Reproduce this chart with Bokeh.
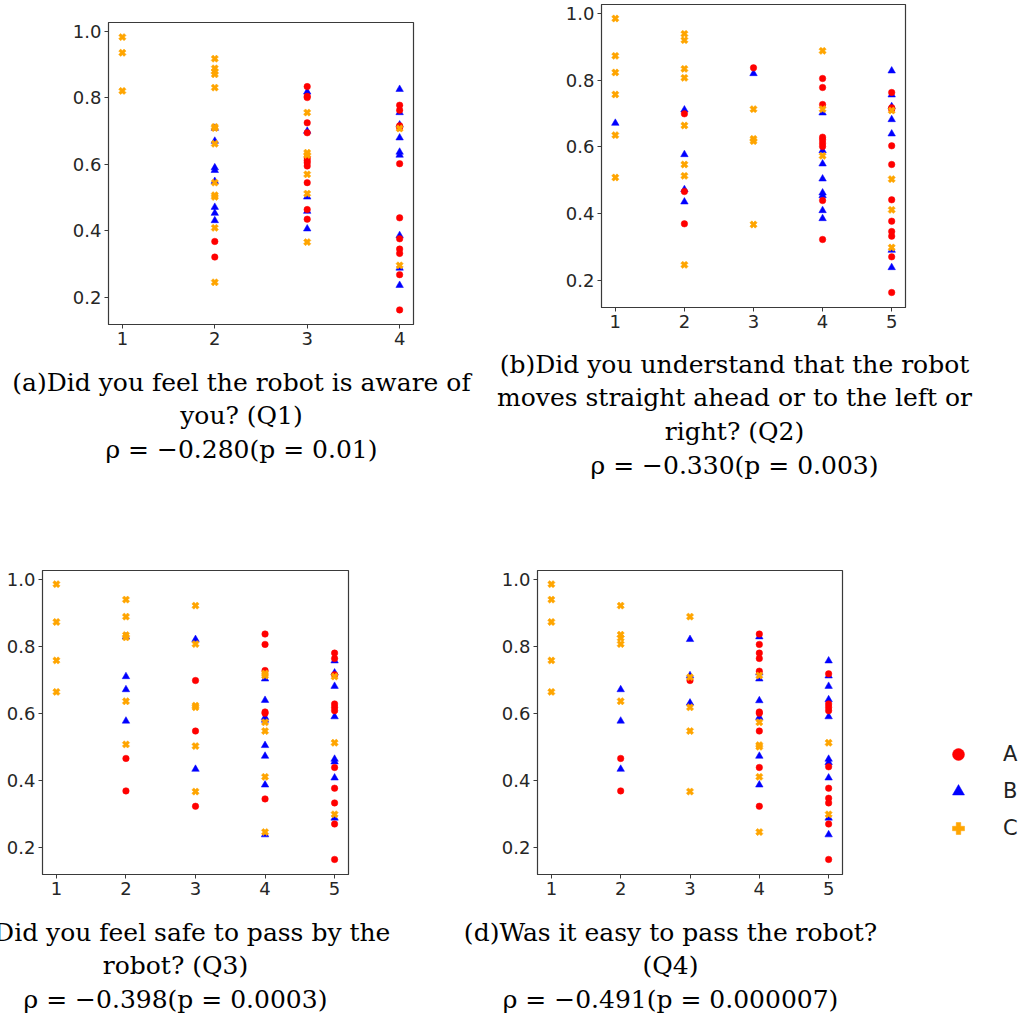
from bokeh.plotting import figure
from bokeh.layouts import column, row
from bokeh.models import Range1d, FixedTicker, Label, Legend, LegendItem, NumeralTickFormatter
from bokeh.embed import file_html
from bokeh.resources import INLINE

GROUPS = ["A", "B", "C"]
COLORS = {"A": "#ff0000", "B": "#0000ff", "C": "#ffa500"}
MARKERS = {"A": "circle", "B": "triangle", "C": "plus"}
Y_TICKS = [0.2, 0.4, 0.6, 0.8, 1.0]

# ---------------- Q1 (x = 1..4) ----------------
Q1_A_x = [2, 2, 3, 3, 3, 3, 3, 3, 3, 3, 3, 3, 3, 3, 4, 4, 4, 4, 4, 4, 4, 4, 4, 4, 4]
Q1_A_y = [0.368, 0.321, 0.834, 0.805, 0.801, 0.725, 0.695, 0.620, 0.612, 0.605, 0.595, 0.545, 0.464, 0.435,
          0.778, 0.763, 0.716, 0.711, 0.602, 0.439, 0.376, 0.345, 0.332, 0.268, 0.162]
Q1_B_x = [2, 2, 2, 2, 2, 2, 2, 2, 3, 3, 3, 3, 3, 4, 4, 4, 4, 4, 4, 4, 4, 4]
Q1_B_y = [0.709, 0.670, 0.590, 0.582, 0.549, 0.471, 0.453, 0.431, 0.818, 0.700, 0.502, 0.459, 0.406,
          0.826, 0.756, 0.719, 0.680, 0.637, 0.628, 0.386, 0.288, 0.236]
Q1_C_x = [1, 1, 1, 2, 2, 2, 2, 2, 2, 2, 2, 2, 2, 2, 2, 2, 3, 3, 3, 3, 3, 3, 4, 4]
Q1_C_y = [0.983, 0.936, 0.821, 0.918, 0.889, 0.879, 0.871, 0.831, 0.713, 0.709, 0.662, 0.545, 0.507, 0.502,
          0.409, 0.245, 0.756, 0.635, 0.628, 0.570, 0.512, 0.366, 0.708, 0.296]

# ---------------- Q2 (x = 1..5) ----------------
Q2_A_x = [2, 2, 2, 3, 4, 4, 4, 4, 4, 4, 4, 4, 4, 5, 5, 5, 5, 5, 5, 5, 5, 5, 5, 5]
Q2_A_y = [0.699, 0.466, 0.369, 0.837, 0.805, 0.778, 0.727, 0.629, 0.621, 0.611, 0.601, 0.439, 0.322,
          0.763, 0.717, 0.713, 0.603, 0.547, 0.441, 0.377, 0.346, 0.332, 0.270, 0.163]
Q2_B_x = [1, 2, 2, 2, 2, 3, 4, 4, 4, 4, 4, 4, 4, 4, 5, 5, 5, 5, 5, 5, 5]
Q2_B_y = [0.671, 0.711, 0.577, 0.472, 0.435, 0.820, 0.702, 0.589, 0.549, 0.504, 0.462, 0.454, 0.409, 0.385,
          0.828, 0.756, 0.721, 0.682, 0.639, 0.290, 0.238]
Q2_C_x = [1, 1, 1, 1, 1, 1, 2, 2, 2, 2, 2, 2, 2, 2, 3, 3, 3, 3, 4, 4, 4, 5, 5, 5, 5]
Q2_C_y = [0.985, 0.873, 0.823, 0.757, 0.635, 0.508, 0.939, 0.920, 0.834, 0.807, 0.664, 0.547, 0.513, 0.246,
          0.713, 0.624, 0.617, 0.367, 0.888, 0.713, 0.573, 0.709, 0.503, 0.411, 0.298]

# ---------------- Q3 (x = 1..5) ----------------
Q3_A_x = [2, 2, 3, 3, 3, 4, 4, 4, 4, 4, 4, 5, 5, 5, 5, 5, 5, 5, 5, 5, 5, 5]
Q3_A_y = [0.465, 0.368, 0.698, 0.547, 0.322, 0.837, 0.806, 0.728, 0.604, 0.600, 0.344,
          0.780, 0.764, 0.715, 0.628, 0.618, 0.608, 0.438, 0.376, 0.332, 0.269, 0.163]
Q3_B_x = [2, 2, 2, 2, 3, 3, 4, 4, 4, 4, 4, 4, 4, 4, 5, 5, 5, 5, 5, 5, 5, 5]
Q3_B_y = [0.829, 0.710, 0.671, 0.577, 0.821, 0.433, 0.703, 0.639, 0.588, 0.580, 0.504, 0.472, 0.386, 0.237,
          0.757, 0.721, 0.681, 0.590, 0.463, 0.455, 0.407, 0.287]
Q3_C_x = [1, 1, 1, 1, 2, 2, 2, 2, 2, 2, 3, 3, 3, 3, 3, 3, 4, 4, 4, 4, 4, 4, 5, 5, 5]
Q3_C_y = [0.986, 0.873, 0.758, 0.664, 0.940, 0.889, 0.834, 0.827, 0.636, 0.507, 0.922, 0.807, 0.623, 0.618,
          0.502, 0.366, 0.719, 0.713, 0.573, 0.547, 0.410, 0.245, 0.710, 0.512, 0.298]

# ---------------- Q4 (x = 1..5) ----------------
Q4_A_x = [2, 2, 3, 4, 4, 4, 4, 4, 4, 4, 4, 4, 4, 5, 5, 5, 5, 5, 5, 5, 5, 5, 5]
Q4_A_y = [0.465, 0.368, 0.698, 0.837, 0.806, 0.780, 0.764, 0.726, 0.604, 0.600, 0.547, 0.438, 0.322,
          0.718, 0.628, 0.618, 0.608, 0.440, 0.376, 0.346, 0.332, 0.269, 0.163]
Q4_B_x = [2, 2, 2, 3, 3, 3, 4, 4, 4, 4, 4, 4, 4, 5, 5, 5, 5, 5, 5, 5, 5, 5, 5]
Q4_B_y = [0.671, 0.577, 0.433, 0.821, 0.713, 0.631, 0.829, 0.721, 0.703, 0.638, 0.588, 0.472, 0.386,
          0.757, 0.712, 0.681, 0.641, 0.590, 0.463, 0.453, 0.407, 0.287, 0.237]
Q4_C_x = [1, 1, 1, 1, 1, 2, 2, 2, 2, 2, 3, 3, 3, 3, 3, 4, 4, 4, 4, 4, 4, 5, 5]
Q4_C_y = [0.986, 0.940, 0.873, 0.758, 0.664, 0.922, 0.835, 0.825, 0.807, 0.636, 0.889, 0.708, 0.618, 0.547,
          0.366, 0.713, 0.573, 0.505, 0.500, 0.410, 0.245, 0.512, 0.298]

CAPTION_Q1 = ["(a)Did you feel the robot is aware of", "you? (Q1)", "ρ = −0.280(p = 0.01)"]
CAPTION_Q2 = ["(b)Did you understand that the robot", "moves straight ahead or to the left or",
              "right? (Q2)", "ρ = −0.330(p = 0.003)"]
CAPTION_Q3 = ["(c)Did you feel safe to pass by the", "robot? (Q3)", "ρ = −0.398(p = 0.0003)"]
CAPTION_Q4 = ["(d)Was it easy to pass the robot?", "(Q4)", "ρ = −0.491(p = 0.000007)"]

SIZES = {"A": 6.5, "B": 7.5, "C": 7.5}
DRAW_ORDER = ["B", "A", "C"]
AX_COLOR = "#3a3a3a"


def make_panel(data, xmax, caption, cap_y, left, fw, right, top, fh, bottom):
    xpad = 0.05 * (xmax - 1)
    p = figure(frame_width=fw, frame_height=fh,
               min_border_left=left, min_border_right=right,
               min_border_top=top, min_border_bottom=bottom,
               x_range=Range1d(1 - xpad, xmax + xpad), y_range=Range1d(0.118, 1.027),
               output_backend="svg", toolbar_location=None, tools="")
    p.background_fill_color = "white"
    p.border_fill_color = "white"
    p.outline_line_color = AX_COLOR
    p.outline_line_width = 1.2
    p.grid.visible = False
    for ax in (p.xaxis, p.yaxis):
        ax.axis_line_color = AX_COLOR
        ax.major_tick_line_color = AX_COLOR
        ax.major_tick_out = 4
        ax.major_tick_in = 0
        ax.minor_tick_line_color = None
        ax.major_label_text_font = "DejaVu Sans"
        ax.major_label_text_font_size = "18px"
        ax.major_label_text_color = "#262626"
        ax.major_label_standoff = 3
    p.xaxis.ticker = FixedTicker(ticks=list(range(1, xmax + 1)))
    p.yaxis.ticker = FixedTicker(ticks=Y_TICKS)
    p.yaxis.formatter = NumeralTickFormatter(format="0.0")
    for g in DRAW_ORDER:
        xs, ys = data[g]
        kw = {"angle": 0.785398} if g == "C" else {}
        p.scatter(xs, ys, marker=MARKERS[g], size=SIZES[g],
                  fill_color=COLORS[g], line_color=COLORS[g], line_width=0.5, **kw)
    p.add_layout(Label(x=133, y=cap_y, x_units="screen", y_units="screen",
                       text="\n".join(caption), text_align="center", text_baseline="top",
                       text_line_height=1.17,
                       text_font="DejaVu Serif", text_font_size="25px", text_color="black"), "below")
    return p


fa = make_panel({"A": (Q1_A_x, Q1_A_y), "B": (Q1_B_x, Q1_B_y), "C": (Q1_C_x, Q1_C_y)}, 4, CAPTION_Q1, 77,
                108, 305, 77, 22, 302, 176)
fb = make_panel({"A": (Q2_A_x, Q2_A_y), "B": (Q2_B_x, Q2_B_y), "C": (Q2_C_x, Q2_C_y)}, 5, CAPTION_Q2, 112,
                111, 304, 120, 4, 303, 193)
fc = make_panel({"A": (Q3_A_x, Q3_A_y), "B": (Q3_B_x, Q3_B_y), "C": (Q3_C_x, Q3_C_y)}, 5, CAPTION_Q3, 77,
                42, 306, 92, 70, 304, 147)
fd = make_panel({"A": (Q4_A_x, Q4_A_y), "B": (Q4_B_x, Q4_B_y), "C": (Q4_C_x, Q4_C_y)}, 5, CAPTION_Q4, 77,
                97, 305, 96, 70, 304, 147)

# legend panel
leg = figure(width=87, height=521, x_range=Range1d(0, 1), y_range=Range1d(0, 1),
             x_axis_location=None, y_axis_location=None, min_border=0,
             output_backend="svg", toolbar_location=None, tools="")
leg.grid.visible = False
leg.outline_line_color = None
NAN = float("nan")
leg_renderers = {}
for g in GROUPS:
    kw = {"angle": 0.785398} if g == "C" else {}
    leg_renderers[g] = leg.scatter([NAN], [NAN], marker=MARKERS[g], fill_color=COLORS[g],
                                   line_color=COLORS[g], line_width=0.5, **kw)
legend = Legend(items=[LegendItem(label=g, renderers=[leg_renderers[g]]) for g in GROUPS],
                location=(5, 178), orientation="vertical",
                glyph_width=30, glyph_height=30, spacing=7, padding=0, margin=0,
                label_standoff=30, label_text_font="DejaVu Sans", label_text_font_size="21px",
                label_text_color="#222222", label_text_baseline="middle",
                border_line_alpha=0, background_fill_alpha=0)
leg.add_layout(legend)

layout = column(
    row(column(fa), column(fb), spacing=0),
    row(column(fc), column(fd), column(leg), spacing=0),
    spacing=0)

with open("out.html", "w") as f:
    f.write(file_html(layout, INLINE))
